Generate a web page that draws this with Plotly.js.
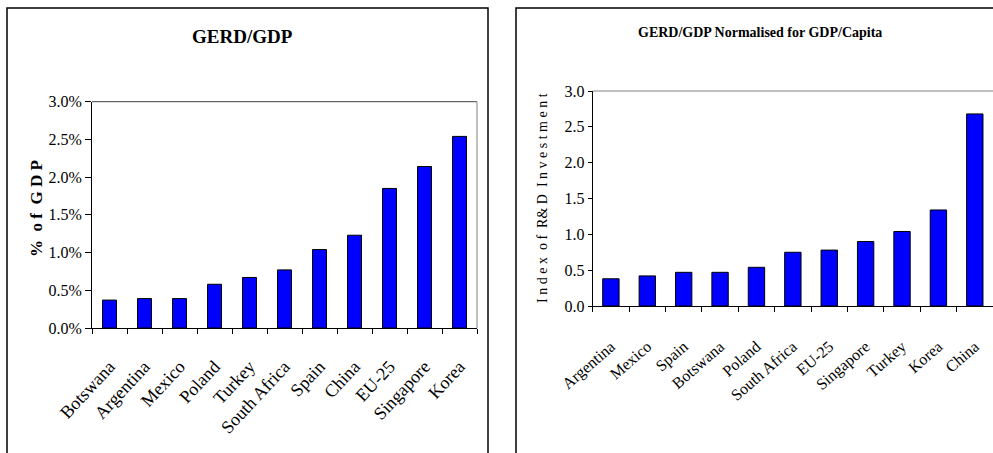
<!DOCTYPE html>
<html>
<head>
<meta charset="utf-8">
<script src="https://cdn.plot.ly/plotly-3.0.1.min.js"></script>
<style>
  html, body { margin: 0; padding: 0; background: #fff; overflow: hidden; }
  #chart { width: 993px; height: 453px; }
</style>
</head>
<body>
<div id="chart"></div>
<script>
// R&D intensity by economy (% of GDP)
const gerdCountries = ['Botswana', 'Argentina', 'Mexico', 'Poland', 'Turkey', 'South Africa',
                       'Spain', 'China', 'EU-25', 'Singapore', 'Korea'];
const gerdValues = [0.37, 0.39, 0.39, 0.58, 0.67, 0.77, 1.04, 1.23, 1.85, 2.14, 2.54];

// R&D investment index, normalised for GDP per capita
const normCountries = ['Argentina', 'Mexico', 'Spain', 'Botswana', 'Poland', 'South Africa',
                       'EU-25', 'Singapore', 'Turkey', 'Korea', 'China'];
const normValues = [0.38, 0.42, 0.47, 0.47, 0.54, 0.75, 0.78, 0.90, 1.04, 1.34, 2.68];

const leftTitle = 'GERD/GDP';
const rightTitle = 'GERD/GDP Normalised for GDP/Capita';
const leftYTitle = '% &nbsp;o f &nbsp;G D P';
const rightYTitle = 'I n d e x &nbsp;o f &nbsp;R&amp; D &nbsp;I n v e s t m e n t';

const W = 993, H = 453;
const px = v => v / W;          // pixel -> paper x
const py = v => 1 - v / H;      // pixel -> paper y

const serif = 'Liberation Serif, Times New Roman, serif';
const barColor = '#0000FF';

const traces = [
  {
    type: 'bar', x: gerdCountries, y: gerdValues, xaxis: 'x', yaxis: 'y',
    width: 0.4,
    marker: { color: barColor, line: { color: '#000', width: 1 } },
    hoverinfo: 'x+y', showlegend: false
  },
  {
    type: 'bar', x: normCountries, y: normValues, xaxis: 'x2', yaxis: 'y2',
    width: 0.45,
    marker: { color: barColor, line: { color: '#000', width: 1 } },
    hoverinfo: 'x+y', showlegend: false
  }
];

const catAxis = (domain, anchor, angle, size, standoff) => ({
  domain: domain, anchor: anchor, type: 'category',
  showline: true, linecolor: '#000', linewidth: 1,
  ticks: 'outside', ticklen: 5, tickcolor: '#000', tickson: 'boundaries',
  tickangle: angle, ticklabelstandoff: standoff,
  tickfont: { family: serif, size: size, color: '#000' },
  showgrid: false, zeroline: false, fixedrange: true
});

const valAxis = (domain, anchor, suffix, size, ticklen) => ({
  domain: domain, anchor: anchor, range: [0, 3], dtick: 0.5, tick0: 0,
  tickformat: '.1f', ticksuffix: suffix,
  showline: true, linecolor: '#000', linewidth: 1,
  ticks: 'outside', ticklen: ticklen, tickcolor: '#000',
  tickfont: { family: serif, size: size, color: '#000' },
  showgrid: false, zeroline: false, fixedrange: true
});

const layout = {
  width: W, height: H,
  margin: { l: 0, r: 0, t: 0, b: 0 },
  paper_bgcolor: '#fff', plot_bgcolor: '#fff',
  bargap: 0.5,
  xaxis: catAxis([px(92), px(477)], 'y', -47, 18, 20),
  yaxis: valAxis([py(328), py(101.7)], 'x', '%', 16, 6),
  xaxis2: catAxis([px(592.7), 1], 'y2', -41, 16, 24),
  yaxis2: valAxis([py(306), py(91)], 'x2', '', 16, 4),
  shapes: [
    // panel frames
    { type: 'rect', xref: 'paper', yref: 'paper', x0: px(7), x1: px(488), y0: -0.1, y1: py(8),
      line: { color: '#000', width: 1.5 } },
    { type: 'rect', xref: 'paper', yref: 'paper', x0: px(516), x1: 1.1, y0: -0.1, y1: py(8),
      line: { color: '#000', width: 1.5 } },
    // plot-area top and right edges
    { type: 'line', xref: 'paper', yref: 'paper', x0: px(92), x1: px(477), y0: py(101.7), y1: py(101.7),
      line: { color: '#404040', width: 1 } },
    { type: 'line', xref: 'paper', yref: 'paper', x0: px(477), x1: px(477), y0: py(101.7), y1: py(328),
      line: { color: '#808080', width: 1 } },
    { type: 'line', xref: 'paper', yref: 'paper', x0: px(592.7), x1: 1, y0: py(91), y1: py(91),
      line: { color: '#808080', width: 1 } }
  ],
  annotations: [
    { xref: 'paper', yref: 'paper', x: px(242), y: py(37), text: '<b>' + leftTitle + '</b>',
      showarrow: false, font: { family: serif, size: 19, color: '#000' }, xanchor: 'center', yanchor: 'middle' },
    { xref: 'paper', yref: 'paper', x: px(760), y: py(32), text: '<b>' + rightTitle + '</b>',
      showarrow: false, font: { family: serif, size: 14, color: '#000' }, xanchor: 'center', yanchor: 'middle' },
    { xref: 'paper', yref: 'paper', x: px(36), y: py(209), text: '<b>' + leftYTitle + '</b>', textangle: -90,
      showarrow: false, font: { family: serif, size: 17, color: '#000' }, xanchor: 'center', yanchor: 'middle' },
    { xref: 'paper', yref: 'paper', x: px(542), y: py(198), text: rightYTitle, textangle: -90,
      showarrow: false, font: { family: serif, size: 14, color: '#000' }, xanchor: 'center', yanchor: 'middle' }
  ]
};

Plotly.newPlot('chart', traces, layout, { displayModeBar: false, staticPlot: true });
</script>
</body>
</html>
